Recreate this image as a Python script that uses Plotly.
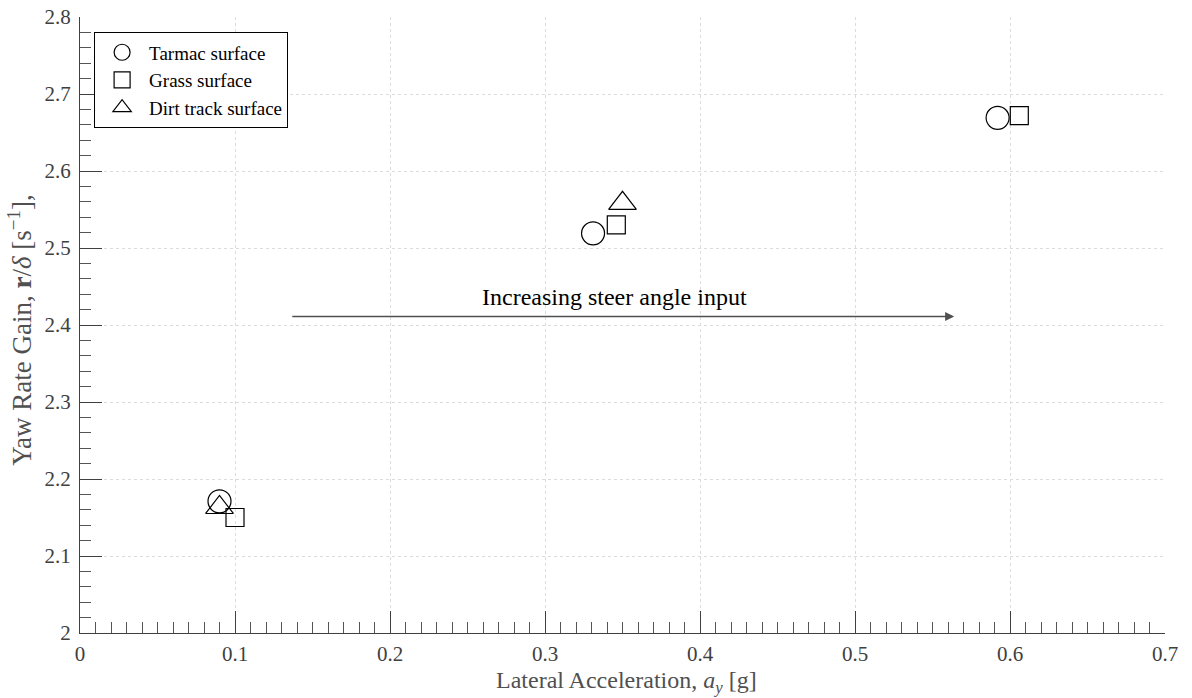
import plotly.graph_objects as go

# Data
tarmac_x = [0.090, 0.331, 0.592]
tarmac_y = [2.171, 2.519, 2.669]
grass_x = [0.100, 0.346, 0.606]
grass_y = [2.150, 2.530, 2.672]
dirt_x = [0.090, 0.350]
dirt_y = [2.163, 2.558]

series_names = ["Tarmac surface", "Grass surface", "Dirt track surface"]

arrow_start = (0.136, 2.411)
arrow_end = (0.564, 2.411)
arrow_text = "Increasing steer angle input"
arrow_text_pos = (0.345, 2.437)

x_ticks = [0, 0.1, 0.2, 0.3, 0.4, 0.5, 0.6, 0.7]
x_tick_labels = ["0", "0.1", "0.2", "0.3", "0.4", "0.5", "0.6", "0.7"]
y_ticks = [2.0, 2.1, 2.2, 2.3, 2.4, 2.5, 2.6, 2.7, 2.8]
y_tick_labels = ["2", "2.1", "2.2", "2.3", "2.4", "2.5", "2.6", "2.7", "2.8"]

x_title = "Lateral Acceleration, <i>a<sub>y</sub></i> [g]"
y_title = "Yaw Rate Gain, <b>r</b>/<i>δ</i> [s<sup>−1</sup>],"

FONT = "Liberation Serif"
AX = "#404040"

fig = go.Figure()
fig.add_trace(go.Scatter(x=tarmac_x, y=tarmac_y, mode="markers", name=series_names[0],
                         marker=dict(symbol="circle-open", size=23, color="black",
                                     line=dict(width=1.2, color="black"))))
fig.add_trace(go.Scatter(x=grass_x, y=grass_y, mode="markers", name=series_names[1],
                         marker=dict(symbol="square-open", size=18, color="black",
                                     line=dict(width=1.2, color="black"))))
fig.add_trace(go.Scatter(x=dirt_x, y=dirt_y, mode="markers", name=series_names[2],
                         marker=dict(symbol="triangle-up-open", size=24, color="black",
                                     line=dict(width=1.2, color="black"))))

fig.add_annotation(x=arrow_end[0], y=arrow_end[1], ax=arrow_start[0], ay=arrow_start[1],
                   xref="x", yref="y", axref="x", ayref="y", text="", showarrow=True,
                   arrowhead=2, arrowsize=1.3, arrowwidth=1.4, arrowcolor="#505050")
fig.add_annotation(x=arrow_text_pos[0], y=arrow_text_pos[1], xref="x", yref="y",
                   text=arrow_text, showarrow=False,
                   font=dict(family=FONT, size=24, color="black"))

# axis titles as annotations for exact placement
fig.add_annotation(x=0.504, y=-0.079, xref="paper", yref="paper",
                   xanchor="center", yanchor="middle", text=x_title, showarrow=False,
                   font=dict(family=FONT, size=24, color="#505050"))
fig.add_annotation(x=-0.056, y=0.491, xref="paper", yref="paper",
                   xanchor="center", yanchor="middle", text=y_title, showarrow=False,
                   textangle=-90, font=dict(family=FONT, size=27, color="#505050"))

fig.update_layout(
    width=1192, height=698,
    margin=dict(l=80, r=27, t=17, b=65),
    paper_bgcolor="white", plot_bgcolor="white",
    font=dict(family=FONT, size=21, color=AX),
    showlegend=True,
    legend=dict(x=0.013, y=0.975, xanchor="left", yanchor="top",
                bgcolor="white", bordercolor="black", borderwidth=1,
                font=dict(family=FONT, size=19, color="black"),
                itemwidth=44, tracegroupgap=0),
)
fig.update_xaxes(
    range=[0, 0.7], tickvals=x_ticks, ticktext=x_tick_labels, automargin=False,
    showline=True, linecolor=AX, linewidth=1, mirror=False,
    ticks="inside", ticklen=22, tickcolor=AX, tickwidth=1,
    showgrid=True, gridcolor="#dcdcdc", griddash="dot", gridwidth=1,
    zeroline=False,
    minor=dict(dtick=0.01, ticks="inside", ticklen=11, tickcolor="#555555", showgrid=False),
    tickfont=dict(family=FONT, size=21, color=AX),
    ticklabelstandoff=2,
)
fig.update_yaxes(
    range=[2.0, 2.8], tickvals=y_ticks, ticktext=y_tick_labels, automargin=False,
    showline=True, linecolor=AX, linewidth=1, mirror=False,
    ticks="inside", ticklen=22, tickcolor=AX, tickwidth=1,
    showgrid=True, gridcolor="#dcdcdc", griddash="dot", gridwidth=1,
    zeroline=False,
    minor=dict(dtick=0.02, ticks="inside", ticklen=11, tickcolor="#555555", showgrid=False),
    tickfont=dict(family=FONT, size=21, color=AX),
    ticklabelstandoff=4,
)

fig.write_html("out.html")
